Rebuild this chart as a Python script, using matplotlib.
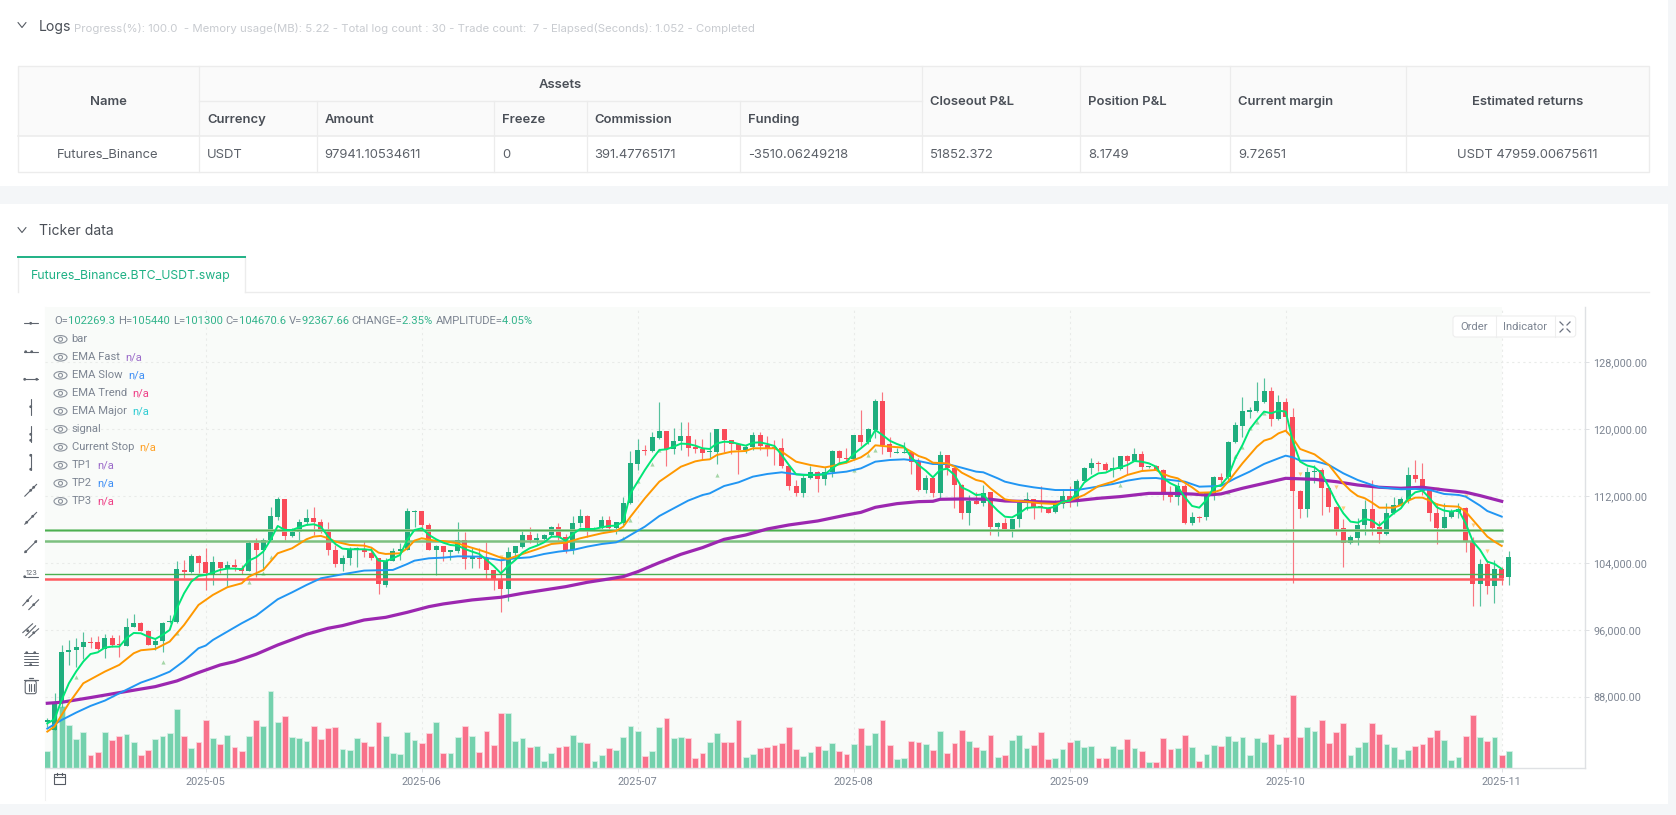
import matplotlib
matplotlib.use("Agg")
import matplotlib.pyplot as plt
from matplotlib.patches import Rectangle, Ellipse, Circle, FancyBboxPatch
from matplotlib.ticker import FuncFormatter, FixedLocator

# ---------- data (prices in thousands of USDT, volume in thousands) ----------
opens = [85.0,84.0,87.2,93.35,93.59,93.91,94.59,94.59,93.67,94.99,
94.27,94.11,96.38,96.86,95.82,94.19,94.67,96.94,96.94,103.20,
102.96,104.83,104.08,102.56,104.08,103.44,103.76,103.44,103.04,106.43,
105.55,106.75,109.54,111.61,107.27,107.74,108.90,109.34,108.94,107.70,
105.55,103.92,104.55,105.67,105.67,105.23,104.55,101.36,104.28,105.43,
105.55,110.14,110.22,108.54,105.55,106.02,105.35,105.47,106.74,104.43,
104.63,104.63,103.15,102.08,100.88,105.15,105.95,107.30,106.74,106.86,
107.30,108.26,107.06,105.55,108.74,109.57,108.06,108.14,109.09,108.14,
108.82,111.13,115.83,117.55,117.35,118.90,119.74,117.63,118.58,119.18,
117.83,117.63,117.23,117.31,119.98,118.66,118.23,117.51,117.83,119.30,
118.11,117.91,117.71,115.63,113.20,112.40,114.12,114.92,114.0,114.92,
117.43,116.55,116.43,119.26,118.50,119.90,123.33,118.19,117.15,117.15,
117.31,116.11,112.72,114.20,112.40,116.87,115.35,113.36,110.01,111.45,
111.13,112.48,108.34,108.82,108.10,109.21,111.45,111.61,110.73,110.61,
110.05,111.05,112.01,111.45,113.84,115.35,115.91,115.83,115.12,115.19,
116.75,116.23,116.99,115.43,115.59,115.12,112.52,111.93,113.20,108.82,
109.53,109.53,112.24,114.32,114.32,118.51,120.38,122.10,122.18,123.25,
124.61,121.18,123.21,121.50,112.65,110.45,114.84,115.12,112.97,110.73,
108.14,106.39,107.03,108.54,110.41,108.26,107.46,109.94,110.93,111.61,
114.48,114.08,112.93,109.94,108.22,109.50,110.13,110.53,106.55,101.44,
103.88,101.28,103.28,102.27]
closes = [85.2,87.4,93.4,93.59,93.91,94.59,94.43,93.67,94.99,94.19,
94.15,96.38,96.86,95.82,94.19,94.71,96.86,97.10,103.24,102.96,
104.83,104.0,102.76,104.08,103.36,103.72,103.48,103.04,106.43,105.55,
106.75,109.62,111.61,107.27,107.70,108.90,109.34,108.86,107.66,105.55,
103.92,104.55,105.55,105.83,105.35,104.55,101.44,104.24,105.43,105.67,
110.22,110.26,108.54,105.55,106.03,105.27,105.55,106.74,104.43,104.75,
104.51,103.15,102.08,100.88,105.27,106.02,107.30,106.74,106.94,107.34,
108.26,107.14,105.55,108.78,109.57,108.14,108.18,109.09,108.14,108.86,
111.13,115.91,117.51,117.35,119.02,119.74,117.63,118.58,119.18,117.75,
117.63,117.19,117.35,119.98,118.70,118.23,117.51,117.87,119.30,118.03,
117.75,117.71,115.59,113.20,112.40,114.20,114.92,114.04,114.92,117.43,
116.51,116.39,119.26,118.50,119.98,123.33,118.11,117.27,117.27,117.27,
116.11,112.72,114.20,112.40,116.87,115.35,113.36,110.01,111.45,111.05,
112.40,108.34,108.82,108.10,109.21,111.13,111.61,110.65,110.65,110.01,
111.05,112.01,111.33,113.84,115.35,115.91,115.79,115.12,115.31,116.75,
116.23,116.99,115.51,115.59,115.12,112.52,111.93,113.20,108.82,109.53,
109.41,112.32,114.32,113.92,118.51,120.46,122.14,122.26,123.33,124.61,
121.26,123.21,121.50,112.65,110.45,114.84,115.0,112.97,110.69,108.06,
106.43,107.07,108.54,110.41,108.22,107.46,109.94,110.93,111.61,114.48,
114.0,112.61,109.94,108.22,109.54,110.13,110.41,106.55,101.44,103.84,
101.28,103.28,102.16,104.67]
highs = [85.5,88.4,94.15,94.79,94.99,95.70,95.19,95.30,95.50,95.38,
95.38,97.38,97.90,96.9,95.98,94.99,96.9,97.78,104.28,104.36,
105.03,104.9,105.83,104.83,104.1,104.28,104.43,103.76,106.67,107.03,
107.03,110.73,111.85,111.65,108.14,109.22,110.42,110.65,109.22,108.94,
106.15,104.95,105.87,105.87,106.67,105.95,104.63,104.55,105.83,106.43,
110.61,110.3,110.25,108.82,106.1,106.05,105.6,108.86,107.66,105.75,
105.75,106.46,103.2,104.75,105.95,106.05,107.94,108.26,107.62,107.42,
108.46,108.74,107.46,109.61,110.45,109.73,108.34,109.61,109.61,108.94,
111.93,117.43,118.78,118.11,119.70,123.21,119.82,120.10,120.90,120.82,
118.78,118.78,119.62,120.06,120.0,118.7,118.30,118.11,119.70,119.70,
119.18,118.70,118.90,115.71,113.92,114.52,115.59,115.0,115.43,117.51,
117.51,117.79,119.3,122.29,120.10,123.61,124.44,119.02,117.71,118.42,
117.35,116.51,114.52,114.25,117.39,116.9,115.4,113.44,112.12,112.52,
113.32,112.5,108.85,109.33,109.25,111.33,112.52,111.65,113.20,110.73,
111.53,112.80,113.20,114.0,115.43,116.51,116.19,116.03,116.71,116.79,
116.91,117.79,117.39,115.6,115.71,115.19,113.20,113.72,113.44,110.13,
109.61,112.35,114.40,114.72,118.55,120.90,123.81,122.61,125.68,126.08,
125.0,124.09,123.69,122.50,112.7,115.52,115.72,115.32,113.05,110.81,
109.22,107.35,109.34,111.53,113.92,109.06,111.21,111.93,111.85,115.44,
116.32,116.0,113.13,111.13,111.13,110.41,111.13,110.65,107.15,104.43,
104.35,104.35,103.56,105.44]
lows = [84.4,84.0,86.8,91.80,91.60,92.47,93.79,93.59,92.59,93.99,
92.79,94.11,96.3,95.8,94.19,93.59,93.39,96.78,96.86,102.16,
102.76,102.76,100.77,101.37,102.76,101.25,103.04,102.64,103.0,102.36,
103.16,106.7,109.14,106.75,107.15,106.75,108.54,107.35,107.55,104.95,
103.56,103.08,103.76,103.56,104.75,104.35,100.29,101.08,104.2,104.36,
105.5,108.26,107.94,105.5,102.6,104.23,104.35,105.15,103.27,103.43,
103.35,102.12,100.76,98.17,99.49,104.55,105.75,106.34,106.14,106.74,
107.06,106.74,105.15,105.07,108.34,107.14,107.86,107.94,107.94,107.46,
108.54,111.05,115.12,116.91,117.31,118.78,115.63,117.03,117.51,116.79,
117.19,116.31,116.39,115.83,117.31,117.03,114.60,117.11,117.51,117.51,
116.83,115.71,115.31,112.72,112.01,111.85,114.04,112.52,113.32,114.24,
115.91,115.91,116.31,118.03,118.23,118.90,117.03,116.63,117.1,117.1,
114.60,112.64,112.32,111.93,111.73,114.52,110.53,109.21,108.54,111.0,
110.81,107.34,107.26,108.06,107.14,108.34,110.33,109.21,110.13,109.93,
110.0,110.53,110.73,110.81,113.76,114.60,115.04,115.04,114.32,115.12,
114.60,116.19,115.12,115.4,115.1,111.53,111.33,110.97,108.66,108.58,
108.94,109.13,111.53,113.32,113.92,118.39,119.1,121.30,122.10,123.09,
120.38,121.1,119.70,101.56,109.42,109.54,113.52,109.74,110.13,107.34,
103.56,106.27,106.15,107.35,107.35,106.35,107.38,109.86,110.85,111.13,
113.72,112.13,109.06,106.23,108.14,109.34,109.34,105.35,98.85,98.85,
100.29,99.17,101.36,101.30]
volumes = [91,350,327,227.5,154,189,72,84,191,147,
170,180,138,72,94.5,154,171.5,184,311.5,170,
105,138,252,159,126,175,114,91,171.5,254,
224,406,243,275,163,157.5,145,220.5,156,210,
217,103,96,157.5,138,117,243,171.5,80.5,75,
191,150.5,133,184,241.5,79,79,164.5,222,170,
87.5,196,121,289,292,143.5,157.5,114,117,37,
79,114,119,175,140,131,38.5,72,105,94.5,
164.5,222,196,63,91,217,264,157.5,163,159,
52.5,82,140,184,136.5,136.5,255.5,58,75,105,
114,124,133,217,101.5,63,84,117,98,133,
89,77,129.5,213.5,124,184,255.5,121,47,54,
145,138,129.5,96,196,79,131,201,143.5,114,
96,177,61,70,149,173,105,121,191,47,
54,100,136.5,149,112,117,54,56,117,100,
156,107,89,33,33,157.5,101.5,105,177,112,
37,77,124,117,170,143.5,164.5,70,159,138,
180,126,163,385,163,215,194,255.5,131,191,
238,68,112,138,238,178.5,128,110,47,96,
117,129.5,163,203,150.5,42,61,171.5,278,164.5,
143.5,163,70,92.4]

ema_fast = [84.8,85.3,87.61,89.6,91.0,92.2,93.1,93.3,93.87,93.99,
93.99,94.99,95.62,95.58,95.18,94.9,95.38,95.98,98.57,100.37,
101.76,102.44,102.56,102.84,103.16,103.32,103.32,103.24,104.28,104.67,
105.35,106.75,108.42,107.94,107.94,108.26,108.54,108.62,108.34,107.15,
106.27,105.71,105.63,105.63,105.63,105.55,104.28,104.2,104.55,104.95,
106.75,107.94,108.14,107.35,106.83,106.42,106.14,106.06,105.67,105.35,
105.07,104.35,103.63,102.75,103.63,104.35,105.23,105.75,106.06,106.46,
107.14,107.14,106.66,107.46,108.06,108.06,108.06,108.26,108.42,108.46,
108.94,112.32,113.72,115.12,116.39,117.51,117.59,117.91,118.27,118.23,
118.03,117.71,117.63,118.3,118.5,118.46,118.23,118.03,118.38,118.42,
118.23,117.99,116.91,115.71,114.6,114.52,114.52,114.52,114.6,115.31,
115.91,116.11,117.03,117.71,118.42,119.9,119.3,118.62,118.23,117.91,
116.63,115.71,115.04,114.24,115.12,115.27,114.52,113.04,112.64,112.12,
112.2,111.13,110.25,109.53,109.45,109.93,110.57,110.65,110.65,110.53,
110.73,111.33,111.45,112.32,113.6,114.24,114.72,114.8,115.2,115.43,
115.71,116.19,116.11,115.91,115.51,114.12,113.52,113.12,111.85,110.81,
110.61,111.53,113.04,113.32,114.32,116.51,118.11,119.98,121.1,122.1,
121.9,122.22,122.1,118.51,116.12,115.64,115.44,114.72,113.05,111.33,
109.94,108.94,108.82,109.26,109.06,108.46,109.22,109.94,110.53,111.73,
112.45,112.65,111.73,110.65,110.26,110.13,110.33,108.74,106.55,105.55,
104.15,103.88,103.28]

orange_idx = [0,1,3,5,8,10,12,13,15,17,18,19,21,23,25,27,28,30,32,34,36,37,38,39,40,42,44,45,46,47,49,50,51,52,54,
55,57,58,60,61,63,64,66,68,70,72,74,76,77,79,80,81,83,85,86,88,90,91,92,93,95,97,98,100,101,102,104,106,
108,109,111,113,114,115,117,119,120,121,122,123,125,126,127,129,130,131,133,134,136,138,140,142,144,146,148,150,152,154,155,156,157,159,160,
162,163,164,166,168,169,170,171,172,173,174,176,178,180,181,182,183,184,185,187,188,189,190,191,192,193,194,196,197,198,199,200,201,202]
orange_val = [83.82,84.42,87.21,89.6,91.0,91.8,93.19,93.55,93.71,94.59,95.58,96.58,98.97,100.17,101.09,101.56,102.36,103.16,105.15,105.75,106.83,107.15,107.23,106.95,106.55,106.15,106.07,105.83,105.23,105.07,105.15,105.75,106.67,106.95,106.63,
106.62,106.34,106.06,105.55,105.27,104.63,104.47,105.07,105.63,106.26,106.42,106.94,107.34,107.54,107.82,108.34,109.53,111.73,113.72,114.32,115.51,116.15,116.31,116.39,116.91,117.31,117.39,117.71,117.71,117.71,117.31,116.11,115.71,
115.43,115.59,115.99,116.63,117.19,118.07,117.91,117.79,117.31,116.79,116.51,115.99,115.91,115.51,114.8,113.92,113.72,112.92,111.61,111.45,111.33,111.13,111.05,111.45,112.12,113.2,113.72,114.52,114.99,115.12,114.64,114.32,114.12,113.04,112.4,
112.45,112.73,113.72,115.92,117.91,118.63,118.9,119.5,119.82,118.9,117.63,116.99,115.72,113.52,112.65,112.01,111.73,111.21,110.61,110.61,110.93,111.45,111.81,111.81,111.45,111.01,110.81,110.73,110.13,109.14,108.14,107.15,106.55,106.03]

blue_idx = [0,2,4,6,8,10,13,15,17,19,21,22,23,25,27,29,32,34,36,38,41,44,46,48,50,51,53,55,57,60,63,65,67,69,71,73,75,77,79,80,81,83,85,87,89,91,92,94,96,98,100,102,104,106,
108,111,113,115,117,119,121,123,125,127,129,130,132,133,135,137,140,143,145,148,150,152,154,156,158,160,163,165,167,169,171,172,173,174,176,178,180,182,184,185,188,190,192,194,196,197,199,200,202]
blue_val = [84.18,85.21,86.09,86.89,87.53,88.4,89.68,90.28,90.99,92.27,93.79,94.11,94.78,95.78,96.78,97.69,99.65,100.48,101.36,102.16,102.64,103.08,103.12,103.16,103.87,104.27,104.55,104.63,104.79,104.75,104.31,104.55,104.67,105.07,105.35,105.55,105.95,106.26,106.46,106.82,107.34,108.34,109.61,110.53,111.45,112.12,112.32,113.2,113.64,114.32,114.64,114.84,114.6,114.52,
114.64,114.92,115.31,116.11,116.31,116.39,116.19,115.83,115.83,115.39,114.92,114.84,114.12,113.72,113.32,113.04,112.72,112.72,113.0,113.44,113.84,114.12,114.16,113.92,113.72,113.12,113.21,114.12,114.92,115.84,116.51,116.83,116.63,116.24,116.2,115.72,114.72,113.92,113.32,113.05,112.81,112.85,112.73,112.25,112.13,111.93,110.85,110.21,109.54]

purple_idx = [0,2,6,10,15,18,21,24,26,29,32,36,39,41,44,47,50,53,55,59,63,66,69,72,75,78,80,82,85,88,91,94,97,100,103,107,111,113,115,118,121,123,124,127,131,133,137,140,143,146,149,153,156,159,161,163,166,169,172,176,179,182,185,188,191,194,197,199,202]
purple_val = [87.21,87.33,87.89,88.48,89.2,89.88,90.88,91.79,92.19,93.07,94.18,95.46,96.18,96.5,97.17,97.49,98.09,98.77,99.09,99.57,99.89,100.36,100.76,101.16,101.68,102.08,102.36,102.95,104.03,105.03,105.83,106.82,107.34,108.06,108.54,109.02,109.73,110.05,110.65,111.09,111.33,111.37,111.61,111.65,111.61,111.41,111.33,111.25,111.45,111.73,111.93,112.32,112.32,112.24,112.12,112.25,112.93,113.52,114.12,114.0,113.72,113.32,113.05,112.93,113.05,112.73,112.45,112.05,111.37]

level_prices = [107.9, 106.64, 102.65, 102.12]

signal_up_idx = [4,16,18,28,30,31,80,81,82,84,85,93,112,114,115,149,164,165,166,167,168,169]
signal_up_val = [90.4,92.1,95.6,101.76,102.84,104.75,106.94,109.13,113.84,115.83,117.51,114.52,115.12,116.91,117.51,113.32,112.53,116.83,117.83,120.1,120.82,121.9]
signal_dn_idx = [63,174,179,180,193,197,198,200]
signal_dn_val = [104.67,114.6,113.13,110.53,112.85,112.01,108.54,105.47]

month_idx = [22,52,82,112,142,172,202]
month_labels = ["2025-05","2025-06","2025-07","2025-08","2025-09","2025-10","2025-11"]
price_ticks = [88,96,104,112,120,128]

table_top_assets = "Assets"
col_headers = ["Currency","Amount","Freeze","Commission","Funding"]
row_values = ["USDT","97941.10534611","0","391.47765171","-3510.06249218"]
right_headers = ["Closeout P&L","Position P&L","Current margin"]
right_values = ["51852.372","8.1749","9.72651"]

# ---------- figure ----------
W, H = 1676, 815
FS = 0.72  # px -> pt at dpi 100
FONT = "Inter"
plt.rcParams["font.family"] = [FONT, "DejaVu Sans"]
fig = plt.figure(figsize=(W/100, H/100), dpi=100, facecolor="#f4f6f8")

bg = fig.add_axes([0, 0, 1, 1], zorder=0)
bg.set_xlim(0, W); bg.set_ylim(H, 0); bg.axis("off")
fg = fig.add_axes([0, 0, 1, 1], zorder=5)
fg.set_xlim(0, W); fg.set_ylim(H, 0); fg.axis("off"); fg.patch.set_alpha(0)

LINE = "#ececec"
TXT = "#4a4f57"
bg.add_patch(Rectangle((0, 0), 1668, 186, fc="white", ec="none"))
bg.add_patch(Rectangle((0, 204), 1668, 600, fc="white", ec="none"))

def chevron(ax, x, y):
    ax.plot([x-4, x, x+4], [y-2.5, y+2.5, y-2.5], color="#555b63", lw=0.8, solid_capstyle="round")

chevron(bg, 22, 25)
chevron(bg, 22, 230)
bg.text(38.5, 27, "Logs", fontsize=14*FS, color=TXT, va="center")
bg.text(74, 28, "Progress(%): 100.0  - Memory usage(MB): 5.22 - Total log count : 30 - Trade count:  7 - Elapsed(Seconds): 1.052 - Completed",
        fontsize=11.4*FS, color="#c8cbd0", va="center")
bg.text(38.5, 231, "Ticker data", fontsize=14*FS, color=TXT, va="center")

# table
tx = [18, 199, 316.5, 494, 586.5, 740, 921.6, 1080, 1230, 1406, 1649]
ty = [66, 101, 136, 172]
bg.add_patch(Rectangle((tx[0], ty[0]), tx[-1]-tx[0], ty[2]-ty[0], fc="#fafafa", ec="none"))
bg.add_patch(Rectangle((tx[0], ty[0]), tx[-1]-tx[0], ty[3]-ty[0], fc="none", ec=LINE, lw=1))
bg.plot([tx[0], tx[-1]], [ty[2], ty[2]], color=LINE, lw=1.2)
bg.plot([tx[1], tx[6]], [ty[1], ty[1]], color=LINE, lw=1)
for i, x in enumerate(tx[1:-1], start=1):
    y0 = ty[1] if 2 <= i <= 5 else ty[0]
    bg.plot([x, x], [y0, ty[3]], color=LINE, lw=0.9)
HS = 13*FS
bg.text(108, 102, "Name", fontsize=HS, color=TXT, weight="semibold", ha="center", va="center")
bg.text(560, 85, table_top_assets, fontsize=HS, color=TXT, weight="semibold", ha="center", va="center")
for x, s in zip(tx[1:6], col_headers):
    bg.text(x+8, 120, s, fontsize=HS, color=TXT, weight="semibold", va="center")
for x, s in zip(tx[1:6], row_values):
    bg.text(x+8, 155, s, fontsize=HS, color="#5b6068", va="center")
bg.text(108, 155, "Futures_Binance", fontsize=HS, color="#5b6068", ha="center", va="center")
for x, s, v in zip(tx[6:9], right_headers, right_values):
    bg.text(x+8, 102, s, fontsize=HS, color=TXT, weight="semibold", va="center")
    bg.text(x+8, 155, v, fontsize=HS, color="#5b6068", va="center")
bg.text(1527.6, 102, "Estimated returns", fontsize=HS, color=TXT, weight="semibold", ha="center", va="center")
bg.text(1527.6, 155, "USDT 47959.00675611", fontsize=HS, color="#5b6068", ha="center", va="center")

# tab
bg.plot([245, 1649], [292, 292], color=LINE, lw=1)
bg.plot([18, 18], [256, 292], color=LINE, lw=1)
bg.plot([245, 245], [256, 292], color=LINE, lw=1)
bg.plot([18, 245], [256.5, 256.5], color="#1fb185", lw=1.4)
bg.text(131, 276, "Futures_Binance.BTC_USDT.swap", fontsize=12.3*FS, color="#1fb185", ha="center", va="center")

# ---------- chart ----------
L, R, T, B = 45, 1585, 307, 768.3
PX_PER_BAR = 7.2
BAR0_PX = 47.3
PX_PER_K = 66.87 / 8
pos = [L/W, 1-B/H, (R-L)/W, (B-T)/H]
xlim = ((L-BAR0_PX)/PX_PER_BAR, (R-BAR0_PX)/PX_PER_BAR)
ylim = (128-(B-362.3)/PX_PER_K, 128+(362.3-T)/PX_PER_K)

UP, DOWN = "#1fae7e", "#f94b59"
VUP, VDN = "#74d1ad", "#f8728b"
GRID = "#e9ebe9"
TICKC = "#7d8592"

vax = fig.add_axes(pos, zorder=1)
vax.set_xlim(*xlim); vax.set_ylim(0, (B-T)*5.25)
vax.set_facecolor("white")
for s in vax.spines.values():
    s.set_visible(False)
vax.set_xticks([]); vax.set_yticks([])
vax.axvspan(xlim[0], month_idx[-1], color="#f9fbf9", lw=0)
for m in month_idx:
    vax.axvline(m, color=GRID, lw=0.8, ls=(0, (2, 3)))
for p in price_ticks:
    vax.axhline(((p-ylim[0])*PX_PER_K)*5.25, color=GRID, lw=0.8, ls=(0, (2, 3)))
idx = list(range(len(opens)))
vcol = [VUP if c >= o else VDN for o, c in zip(opens, closes)]
vedge = ["#d4f0e5" if c >= o else "#fcd5dc" for o, c in zip(opens, closes)]
vax.bar(idx, volumes, width=0.8, color=vcol, edgecolor=vedge, linewidth=0.6, zorder=2)

ax = fig.add_axes(pos, zorder=2)
ax.patch.set_alpha(0)
ax.set_xlim(*xlim); ax.set_ylim(*ylim)
for k, s in ax.spines.items():
    s.set_visible(k in ("right", "bottom"))
    s.set_color("#dfe1e4"); s.set_linewidth(1)
ax.yaxis.tick_right()
ax.yaxis.set_major_locator(FixedLocator(price_ticks))
ax.yaxis.set_major_formatter(FuncFormatter(lambda v, _: f"{v*1000:,.2f}"))
ax.xaxis.set_major_locator(FixedLocator(month_idx))
ax.set_xticklabels(month_labels)
ax.tick_params(axis="y", length=3, width=0.7, color="#dfe1e4", labelcolor=TICKC, labelsize=10.9*FS, pad=3)
ax.tick_params(axis="x", length=3, width=0.7, color="#dfe1e4", labelcolor=TICKC, labelsize=10.9*FS, pad=3)
for lab in ax.get_xticklabels() + ax.get_yticklabels():
    lab.set_family("Roboto")

col = [UP if c >= o else DOWN for o, c in zip(opens, closes)]
ax.vlines(idx, lows, highs, colors=col, lw=0.85, alpha=0.75, zorder=3)
bot = [min(o, c) for o, c in zip(opens, closes)]
hgt = [max(abs(c-o), 0.12) for o, c in zip(opens, closes)]
ax.bar(idx, hgt, bottom=bot, width=0.72, color=col, lw=0, zorder=4)

ax.scatter(signal_up_idx, signal_up_val, marker="^", s=9, color="#a5d6a7", lw=0, zorder=4.5)
ax.scatter(signal_dn_idx, signal_dn_val, marker="v", s=9, color="#ffcc80", lw=0, zorder=4.5)

hl_x = [xlim[0], month_idx[-1]]
ax.plot(hl_x, [level_prices[0]]*2, color="#a5d6a7", lw=2.0, zorder=5)
ax.plot(hl_x, [level_prices[0]]*2, color="#4caf50", lw=1.0, zorder=5)
ax.plot(hl_x, [level_prices[1]]*2, color="#7cc07f", lw=1.8, zorder=5)
ax.plot(hl_x, [level_prices[2]]*2, color="#4caf50", lw=1.0, zorder=5)
ax.plot(hl_x, [level_prices[3]]*2, color="#ff5a5f", lw=1.8, zorder=5)

ax.plot(purple_idx, purple_val, color="#9c27b0", lw=2.3, zorder=6, solid_joinstyle="round")
ax.plot(blue_idx, blue_val, color="#2196f3", lw=1.4, zorder=6.1, solid_joinstyle="round")
ax.plot(orange_idx, orange_val, color="#ff9800", lw=1.4, zorder=6.2, solid_joinstyle="round")
ax.plot(range(len(ema_fast)), ema_fast, color="#00e676", lw=1.4, zorder=6.3, solid_joinstyle="round")

# left axis line
bg.plot([L, L], [T, 800], color="#f0f0f0", lw=0.8)

# ---------- legend text ----------
rend = fig.canvas.get_renderer()
GREY, VAL = "#7d8592", "#33b48c"
LF = "Roboto"

def chain(parts, x, y, size=11.3):
    for s, c in parts:
        t = fg.text(x, y, s, fontsize=size*FS, color=c, va="center", ha="left", family=LF)
        bb = t.get_window_extent(rend)
        x = bb.x1

hdr = []
for lab, val in [("O=", "102269.3"), ("H=", "105440"), ("L=", "101300"), ("C=", "104670.6"), ("V=", "92367.66"), ("CHANGE=", "2.35%"), ("AMPLITUDE=", "4.05%")]:
    hdr.append((lab, GREY)); hdr.append((val + "\u00a0", VAL))
chain(hdr, 54.7, 321)

legend_names = ["bar", "EMA Fast", "EMA Slow", "EMA Trend", "EMA Major", "signal", "Current Stop", "TP1", "TP2", "TP3"]
legend_cols = [None, "#9b6bc9", "#3f8ff5", "#ee3f86", "#2ecbd2", None, "#ffa024", "#9b6bc9", "#3f8ff5", "#ee3f86"]
for k, (n, c) in enumerate(zip(legend_names, legend_cols)):
    y = 339.3 + 18*k
    fg.add_patch(Ellipse((60.5, y), 13, 7.5, fc="none", ec="#8b929c", lw=0.8))
    fg.add_patch(Circle((60.5, y), 2, fc="none", ec="#8b929c", lw=0.8))
    t = fg.text(71.5, y, n, fontsize=11.2*FS, color=GREY, va="center", family=LF)
    if c:
        x1 = t.get_window_extent(rend).x1
        fg.text(x1+5.7, y, "n/a", fontsize=11.2*FS, color=c, va="center", family=LF)

# ---------- buttons ----------
fg.add_patch(FancyBboxPatch((1453, 316), 122.7, 21, boxstyle="round,pad=0,rounding_size=3", fc="white", ec="#eeeeee", lw=0.8))
for x in (1496, 1554.7):
    fg.plot([x, x], [316, 337], color="#eeeeee", lw=0.8)
fg.text(1474.5, 326.5, "Order", fontsize=11.3*FS, color=GREY, ha="center", va="center", family=LF)
fg.text(1525, 326.5, "Indicator", fontsize=11.3*FS, color=GREY, ha="center", va="center", family=LF)
for dx, dy in [(-1, -1), (1, -1), (-1, 1), (1, 1)]:
    cx, cy = 1565, 327
    fg.plot([cx+dx*2, cx+dx*5], [cy+dy*2, cy+dy*5], color="#6b7280", lw=0.9)

# calendar icon
fg.add_patch(Rectangle((54, 774), 10.5, 10, fc="none", ec="#555b63", lw=0.8))
fg.plot([54, 64.5], [777, 777], color="#555b63", lw=0.8)
fg.plot([57, 57], [772.5, 775], color="#555b63", lw=0.8)
fg.plot([61.5, 61.5], [772.5, 775], color="#555b63", lw=0.8)

# ---------- toolbar ----------
IC = "#5f656e"
cx = 30.7
def seg(x0, y0, x1, y1, lw=0.8):
    fg.plot([x0, x1], [y0, y1], color=IC, lw=lw, solid_capstyle="round")
def dot(x, y):
    fg.add_patch(Circle((x, y), 1.4, fc=IC, ec="none"))

y = 323.3; seg(cx-7, y, cx+7, y); dot(cx, y)
y = 351.7; seg(cx-7, y, cx+7, y); dot(cx-5, y); dot(cx+1, y)
y = 379.3; seg(cx-7, y, cx+7, y); dot(cx-6, y); dot(cx+6, y)
y = 406.7; seg(cx, y-8, cx, y+8); dot(cx, y)
y = 434.3; seg(cx, y-8, cx, y+8); dot(cx, y); dot(cx, y+6)
y = 462.3; seg(cx, y-8, cx, y+8); dot(cx, y-7); dot(cx, y+7)
y = 490.3; seg(cx-6, y+6, cx+6, y-6); dot(cx, y); dot(cx+3, y-3)
y = 518.3; seg(cx-6, y+6, cx+6, y-6); dot(cx-4, y+4); dot(cx+2, y-2)
y = 546.7; seg(cx-6, y+6, cx+6, y-6); dot(cx-5, y+5); dot(cx+5, y-5)
y = 576.7; seg(cx-6, y, cx+7, y); dot(cx-6, y)
fg.text(cx+1, y-3.5, "123", fontsize=6*FS*1.2, color=IC, ha="center", va="center")
y = 602.7; seg(cx-8, y+3, cx+1, y-7); seg(cx-2, y+7, cx+8, y-3); dot(cx-3, y-2); dot(cx+3, y+2)
y = 630.7; seg(cx-8, y+2, cx+2, y-7); seg(cx-5, y+5, cx+5, y-5); seg(cx-2, y+7, cx+8, y-2); dot(cx-3, y); dot(cx+3, y+2)
y = 658.7
for d in (-6, -3, 0, 3, 6):
    seg(cx-7, y+d, cx+7, y+d, 0.7)
dot(cx-4, y-6); dot(cx+4, y-6); dot(cx, y+6)
y = 685.7
fg.add_patch(FancyBboxPatch((cx-5.5, y-5), 11, 13, boxstyle="round,pad=0,rounding_size=2", fc="none", ec=IC, lw=0.8))
seg(cx-7, y-5.5, cx+7, y-5.5, 0.9)
seg(cx-2, y-8, cx+2, y-8, 0.9)
for d in (-2.2, 0.6, 2.8):
    seg(cx+d, y-2, cx+d, y+5, 0.8)

fig.savefig("out.png", dpi=100, facecolor=fig.get_facecolor())
